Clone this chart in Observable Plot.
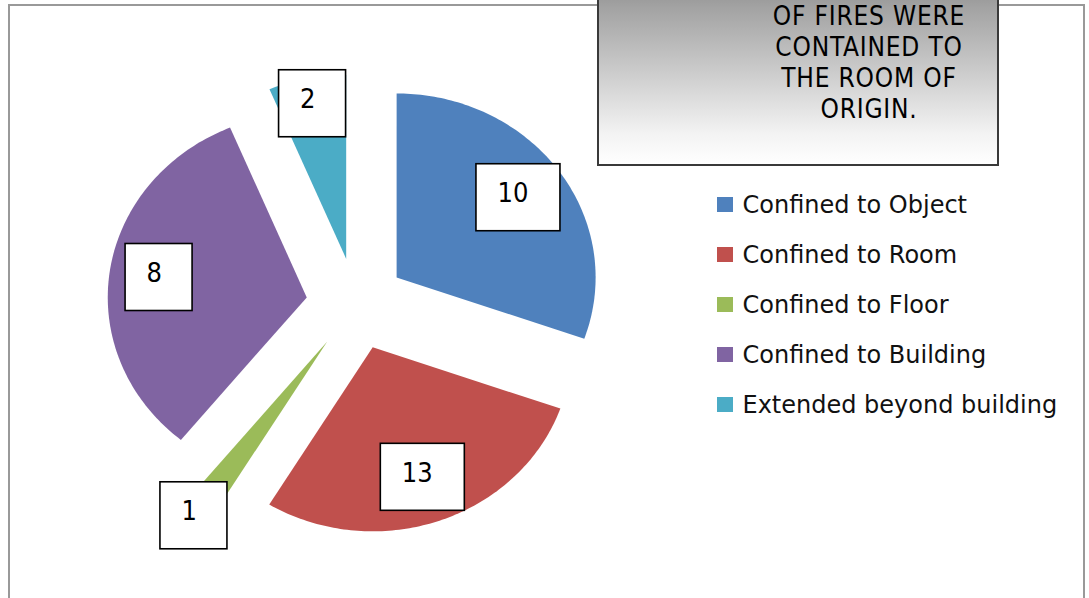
<!DOCTYPE html>
<html>
<head>
<meta charset="utf-8">
<script src="https://cdn.jsdelivr.net/npm/d3@7"></script>
<script src="https://cdn.jsdelivr.net/npm/@observablehq/plot@0.6"></script>
<style>
  html, body { margin: 0; padding: 0; background: #fff; overflow: hidden; }
  #wrap { position: relative; width: 1089px; height: 598px; overflow: hidden; background: #fff; }
  #frame { position: absolute; left: 8px; top: 4px; width: 1077px; height: 800px;
           border: 2.5px solid #999; box-sizing: border-box; }
  #chart { position: absolute; left: 0; top: 0; }
  #note { position: absolute; left: 597px; top: -40px; width: 402px; height: 206px; box-sizing: border-box;
          border: 2px solid #3a3a3a; background: linear-gradient(to bottom, #7e7e7e 0%, #a2a2a2 22%, #f3f3f3 85%, #ffffff 100%); }
  #noteText { position: absolute; left: 719px; top: 1px; width: 300px; text-align: center;
              font-family: "DejaVu Sans Condensed", "DejaVu Sans", sans-serif; font-stretch: condensed;
              font-size: 26px; letter-spacing: 0.8px; color: #000; }
  #noteText div { height: 31px; line-height: 30.5px; }
</style>
</head>
<body>
<div id="wrap">
  <div id="frame"></div>
  <div id="chart"></div>
  <div id="note"></div>
  <div id="noteText"></div>
</div>
<script>
// ---- data ----
const categories = ["Confined to Object", "Confined to Room", "Confined to Floor", "Confined to Building", "Extended beyond building"];
const labelValues = [10, 13, 1, 8, 2];            // numbers shown in the boxes
const sliceShares = [30.4, 28.3, 2.2, 32.8, 6.3]; // share of the circle each slice covers in the picture (%)
const sliceColors = ["#4F81BD", "#C0504D", "#9BBB59", "#8064A2", "#4BACC6"];
const noteLines = ["OF FIRES WERE", "CONTAINED TO", "THE ROOM OF", "ORIGIN."];

// ---- layout ----
const W = 1089, H = 598;
const CX = 355.5, CY = 303.5, RX = 199, RY = 184; // pie centre (px) and radii (px)
const EXPLODE = 0.25;
const X = px => (px - CX) / RX;
const Y = py => (CY - py) / RY;

// slices
let acc = 0;
const slicePts = [];
const labels = [];
categories.forEach((cat, i) => {
  const a0 = acc / 100 * 2 * Math.PI;
  acc += sliceShares[i];
  const a1 = acc / 100 * 2 * Math.PI;
  const mid = (a0 + a1) / 2;
  const ox = EXPLODE * Math.sin(mid), oy = EXPLODE * Math.cos(mid);
  slicePts.push({cat, x: ox, y: oy});
  const n = Math.max(4, Math.ceil((a1 - a0) / (Math.PI / 180)));
  for (let k = 0; k <= n; k++) {
    const a = a0 + (a1 - a0) * k / n;
    slicePts.push({cat, x: ox + Math.sin(a), y: oy + Math.cos(a)});
  }
  const share = sliceShares[i];
  const lr = share < 3 ? 1.16 : share < 10 ? 0.86 : 0.75;
  const lx = ox + lr * Math.sin(mid), ly = oy + lr * Math.cos(mid);
  const txt = String(labelValues[i]);
  const wpx = 50 + 17 * txt.length, hpx = 67;
  labels.push({
    cat, txt,
    x1: lx - wpx / 2 / RX, x2: lx + wpx / 2 / RX,
    y1: ly - hpx / 2 / RY, y2: ly + hpx / 2 / RY,
    tx: lx - wpx / 2 / RX + 21 / RX, ty: ly + 4 / RY
  });
});

const legend = categories.map((cat, i) => ({cat, py: 204.5 + 50 * i}));

const chart = Plot.plot({
  width: W, height: H, margin: 0,
  style: {background: "transparent", overflow: "visible"},
  x: {domain: [X(0), X(W)], range: [0, W], axis: null},
  y: {domain: [Y(H), Y(0)], range: [H, 0], axis: null},
  color: {domain: categories, range: sliceColors},
  marks: [
    Plot.line(slicePts, {x: "x", y: "y", z: "cat", fill: "cat", stroke: "none", curve: "linear-closed"}),
    Plot.rect(labels, {x1: "x1", x2: "x2", y1: "y1", y2: "y2", fill: "white", stroke: "black", strokeWidth: 1.6}),
    Plot.text(labels, {x: "tx", y: "ty", text: "txt", textAnchor: "start", fontSize: 27, fill: "black",
      fontFamily: "DejaVu Sans Condensed, DejaVu Sans, sans-serif"}),
    Plot.rect(legend, {x1: () => X(717), x2: () => X(733), y1: d => Y(d.py + 7.5), y2: d => Y(d.py - 7.5), fill: "cat"}),
    Plot.text(legend, {x: () => X(742), y: d => Y(d.py), text: "cat", textAnchor: "start", fontSize: 24, fill: "#111",
      fontFamily: "DejaVu Sans, sans-serif"})
  ]
});
document.getElementById("chart").appendChild(chart);
document.getElementById("noteText").innerHTML = noteLines.map(s => `<div>${s}</div>`).join("");
</script>
</body>
</html>
